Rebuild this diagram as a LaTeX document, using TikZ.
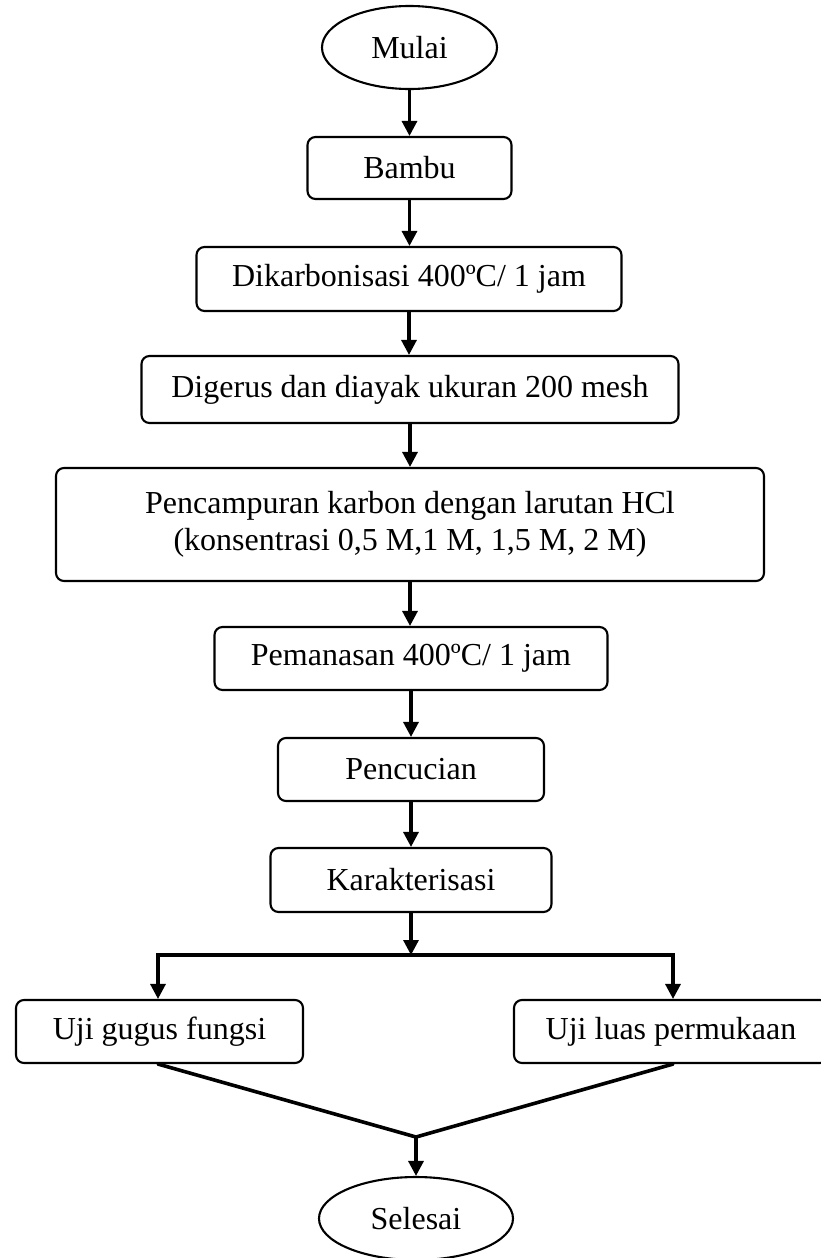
\documentclass[tikz,border=0pt]{standalone}
\usepackage{fontspec}
\setmainfont{Liberation Serif}
\usetikzlibrary{arrows.meta,shapes.geometric}
\begin{document}
\begin{tikzpicture}[x=1pt,y=-1pt,
  every node/.style={font=\fontsize{32}{37}\selectfont, inner sep=0pt},
  stepbox/.style={draw, rounded corners=8pt, line width=2.1pt, align=center},
  term/.style={draw, ellipse, line width=2.1pt},
  flow/.style={line width=3.2pt, -{Triangle[width=15pt,length=15pt]}},
  joinline/.style={line width=3.6pt, line cap=round, line join=miter},
  hline/.style={line width=3.2pt, line cap=rect}]
\useasboundingbox (0,0) rectangle (821,1258);
\clip (0,0) rectangle (821,1258);
\node[term, minimum width=175pt, minimum height=83pt] (mulai) at (409.5,47.5) {Mulai};
\node[stepbox, minimum width=204pt, minimum height=62pt] (bambu) at (409.5,168) {Bambu};
\node[stepbox, minimum width=425pt, minimum height=64pt] (dikar) at (409,279) {Dikarbonisasi 400ºC/ 1 jam};
\node[stepbox, minimum width=537pt, minimum height=67pt] (digerus) at (410,389.5) {Digerus dan diayak ukuran 200 mesh};
\node[stepbox, minimum width=708pt, minimum height=113pt] (campur) at (410,524.5) {Pencampuran karbon dengan larutan HCl\\(konsentrasi 0,5 M,1 M, 1,5 M, 2 M)};
\node[stepbox, minimum width=393pt, minimum height=63pt] (panas) at (411,658.5) {Pemanasan 400ºC/ 1 jam};
\node[stepbox, minimum width=266pt, minimum height=63pt] (cuci) at (411,769.5) {Pencucian};
\node[stepbox, minimum width=281pt, minimum height=64pt] (karak) at (411,880) {Karakterisasi};
\node[stepbox, minimum width=287pt, minimum height=63pt] (ujig) at (159.5,1031.5) {Uji gugus fungsi};
\node[stepbox, minimum width=314pt, minimum height=63pt] (ujil) at (671,1031.5) {Uji luas permukaan};
\node[term, minimum width=194pt, minimum height=83pt] (selesai) at (416,1218.5) {Selesai};
\coordinate (split) at (411,955);
\coordinate (sl) at (158,955);
\coordinate (sr) at (673,955);
\coordinate (merge) at (416,1137);
\draw[flow] (mulai.south) -- (mulai.south |- bambu.north);
\draw[flow] (bambu.south) -- (bambu.south |- dikar.north);
\draw[flow] (dikar.south) -- (dikar.south |- digerus.north);
\draw[flow] (digerus.south) -- (digerus.south |- campur.north);
\draw[flow] (campur.south) -- (campur.south |- panas.north);
\draw[flow] (panas.south) -- (panas.south |- cuci.north);
\draw[flow] (cuci.south) -- (cuci.south |- karak.north);
\draw[flow] (karak.south) -- (split);
\draw[hline] (sl) -- (sr);
\draw[flow] (sl) -- (sl |- ujig.north);
\draw[flow] (sr) -- (sr |- ujil.north);
\draw[joinline] (sl |- ujig.south) -- (merge) -- (sr |- ujil.south);
\draw[flow] (merge) -- (selesai.north);
\end{tikzpicture}
\end{document}
